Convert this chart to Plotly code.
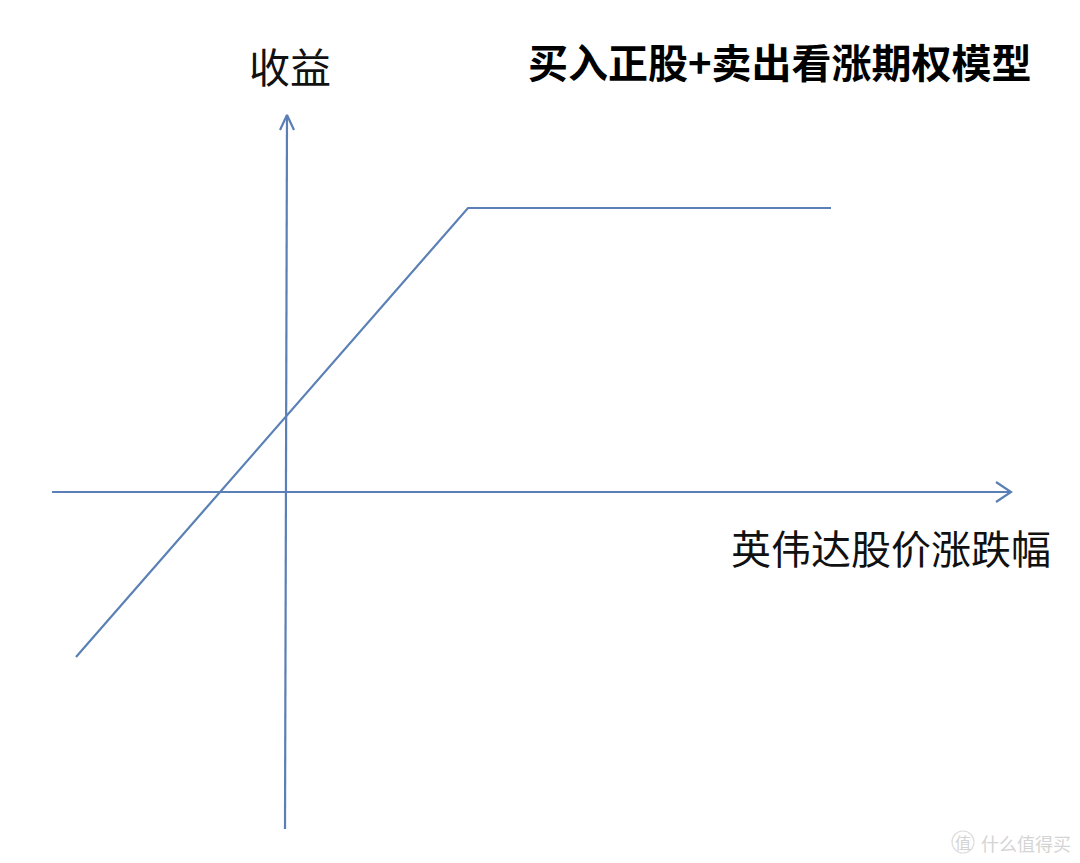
import plotly.graph_objects as go

# Payoff model, in chart units (origin at the axes' crossing)
payoff_x = [-210, 182, 545]
payoff_y = [-165, 284, 284]

x_axis_x = [-234, 725]
x_axis_y = [0, 0]
y_axis_x = [-1, 1]
y_axis_y = [-337, 377]

x_arrow_x = [710, 725, 710]
x_arrow_y = [10, 0, -10]
y_arrow_x = [-6, 1, 8]
y_arrow_y = [362, 377, 362]

title_text = "买入正股+卖出看涨期权模型"
y_label = "收益"
x_label = "英伟达股价涨跌幅"
watermark = "什么值得买"
watermark_logo = "值"

LINE = "#5b80b5"
AXIS = "#5a7fb6"
FONT = "Noto Sans CJK SC"

fig = go.Figure()
for xs, ys, col, w in [
    (y_axis_x, y_axis_y, AXIS, 2.2),
    (y_arrow_x, y_arrow_y, AXIS, 2.2),
    (x_axis_x, x_axis_y, AXIS, 2.2),
    (x_arrow_x, x_arrow_y, AXIS, 2.2),
    (payoff_x, payoff_y, LINE, 2.2),
]:
    fig.add_trace(go.Scatter(x=xs, y=ys, mode="lines", showlegend=False,
                             hoverinfo="skip", line=dict(color=col, width=w)))

def label(x, y, text, size, color="#111111", xanchor="center"):
    fig.add_annotation(x=x, y=y, text=text, showarrow=False, xanchor=xanchor, yanchor="middle",
                       font=dict(family=FONT, size=size, color=color))

label(4, 427, y_label, 41)
label(494, 431, f"<b>{title_text}</b>", 40, "#000000")
label(605, -55, x_label, 40)
label(740, -351, watermark, 18, "#d4d4d4")
label(677, -350, watermark_logo, 16, "#d4d4d4")

fig.add_shape(type="circle", xref="x", yref="y", x0=666, x1=688, y0=-361, y1=-339,
              line=dict(color="#dddddd", width=1.2))

fig.update_layout(
    width=1080, height=863, margin=dict(l=0, r=0, t=0, b=0),
    paper_bgcolor="white", plot_bgcolor="white",
    xaxis=dict(range=[-278, 802], visible=False, fixedrange=True),
    yaxis=dict(range=[-379, 484], visible=False, fixedrange=True),
)
fig.write_html("out.html", config={"displayModeBar": False})
